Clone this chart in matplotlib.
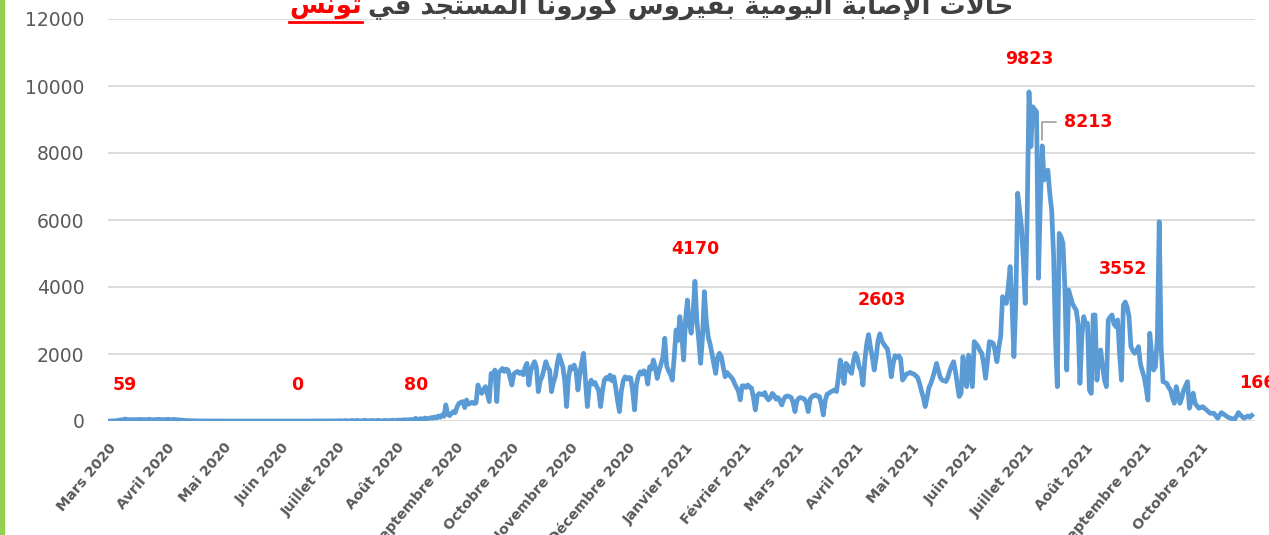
import matplotlib
matplotlib.use('Agg')
import matplotlib.pyplot as plt
from matplotlib.lines import Line2D
from matplotlib.patches import Rectangle
import pandas as pd

# daily new cases, one list per month (from 1 March 2020)
mars_2020 = [0, 2, 1, 3, 5, 18, 25, 30, 40, 59, 45, 38, 40, 42, 35, 44, 40, 50, 38, 41, 36,
             45, 52, 40, 38, 44, 47, 50, 41, 39, 43]
avril_2020 = [45, 50, 38, 42, 48, 40, 35, 30, 25, 20, 15, 12, 10, 8, 6, 5, 4, 3, 2, 2, 1, 1, 0,
              0, 1, 0, 0, 1, 0, 0]
mai_2020 = [0, 0, 1, 0, 0, 0, 2, 0, 0, 0, 1, 0, 0, 0, 0, 3, 0, 0, 0, 0, 1, 0, 0, 0, 0, 0, 2, 0,
            0, 0, 0]
juin_2020 = [0, 1, 0, 0, 0, 2, 0, 0, 0, 0, 1, 0, 3, 0, 0, 0, 1, 0, 0, 4, 0, 2, 0, 0, 1, 0, 0, 3,
             0, 2]
juillet_2020 = [5, 10, 3, 8, 12, 6, 2, 15, 9, 4, 20, 7, 3, 10, 25, 8, 5, 12, 18, 6, 10, 22, 9, 5,
                14, 20, 8, 12, 16, 25, 10]
aout_2020 = [20, 30, 15, 35, 25, 40, 20, 45, 30, 50, 80, 40, 60, 70, 45, 90, 60, 75, 100, 80, 120,
             90, 150, 110, 180, 140, 480, 200, 160, 230, 280]
sept_2020 = [250, 430, 530, 560, 580, 400, 630, 500, 530, 560, 520, 540, 1075, 900, 825, 950, 1025,
             800, 580, 1420, 1350, 1520, 580, 1450, 1500, 1570, 1480, 1550, 1520, 1300]
oct_2020 = [1075, 1400, 1450, 1480, 1420, 1460, 1380, 1600, 1720, 1075, 1500, 1650, 1770, 1600, 875,
            1200, 1320, 1550, 1770, 1600, 1520, 875, 1150, 1320, 1700, 1970, 1800, 1620, 1200, 430,
            1300]
nov_2020 = [1620, 1550, 1670, 1500, 925, 1400, 1750, 2020, 1200, 430, 1050, 1220, 1100, 1150, 1025,
            900, 430, 900, 1220, 1300, 1250, 1370, 1200, 1320, 1000, 600, 280, 900, 1200, 1320]
dec_2020 = [1250, 1300, 1280, 900, 330, 1100, 1350, 1470, 1400, 1500, 1450, 1100, 1620, 1550, 1820,
            1600, 1270, 1500, 1700, 1900, 2470, 1650, 1500, 1400, 1220, 1900, 2715, 2400, 3115,
            2600, 1820]
jan_2021 = [3015, 3610, 2900, 2620, 3200, 4170, 3000, 2420, 1720, 2500, 3860, 3000, 2520, 2300,
            2020, 1700, 1420, 1900, 2020, 1920, 1600, 1320, 1450, 1380, 1320, 1250, 1120, 1000,
            900, 630, 1050]
fev_2021 = [1050, 1000, 1075, 1020, 980, 700, 330, 750, 820, 800, 780, 850, 700, 630, 700, 825, 760,
            650, 700, 600, 480, 650, 730, 750, 730, 700, 550, 280]
mars_2021 = [600, 680, 700, 680, 650, 550, 280, 650, 730, 760, 780, 740, 730, 500, 180, 600, 800,
             830, 870, 900, 930, 880, 1300, 1820, 1500, 1120, 1720, 1650, 1500, 1420, 1800]
avril_2021 = [2020, 1900, 1620, 1500, 1075, 1800, 2300, 2580, 2200, 1900, 1520, 1900, 2400, 2603,
              2400, 2300, 2220, 2150, 1800, 1320, 1700, 1950, 1900, 1950, 1850, 1220, 1300, 1400,
              1420, 1450]
mai_2021 = [1420, 1400, 1350, 1300, 1120, 900, 700, 430, 700, 1000, 1120, 1300, 1500, 1720, 1500,
            1300, 1220, 1200, 1180, 1300, 1500, 1650, 1770, 1500, 1100, 730, 825, 1920, 1500, 1025,
            1970]
juin_2021 = [1500, 1025, 2370, 2300, 2220, 2100, 2020, 1700, 1275, 1800, 2370, 2350, 2320, 2100,
             1770, 2200, 2520, 3710, 3600, 3510, 4000, 4610, 3500, 1920, 3510, 6800, 6300, 5800,
             4800, 3510]
juillet_2021 = [6000, 9823, 8190, 9380, 9300, 9230, 4260, 6500, 8213, 7195, 7300, 7490, 6800, 6300,
                5000, 2520, 1025, 5600, 5500, 5300, 4000, 1520, 3910, 3700, 3510, 3400, 3310, 2920,
                1125, 2500, 3115]
aout_2021 = [2900, 2920, 925, 825, 3165, 3165, 1220, 1920, 2120, 1620, 1225, 1025, 3015, 3100, 3165,
             2900, 2815, 3015, 2000, 1220, 3460, 3552, 3400, 3115, 2220, 2100, 2020, 2100, 2220,
             1720, 1500]
sept_2021 = [1320, 1000, 625, 2620, 2000, 1520, 1620, 2500, 5950, 2220, 1175, 1150, 1125, 1000, 925,
             700, 530, 1025, 800, 530, 700, 925, 1050, 1175, 380, 600, 830, 530, 450, 380]
oct_2021 = [400, 430, 380, 330, 280, 230, 230, 230, 150, 80, 180, 250, 210, 170, 130, 100, 80, 60,
            50, 150, 250, 180, 130, 80, 120, 150, 110, 166]

cases = (mars_2020 + avril_2020 + mai_2020 + juin_2020 + juillet_2020 + aout_2020 + sept_2020
         + oct_2020 + nov_2020 + dec_2020 + jan_2021 + fev_2021 + mars_2021 + avril_2021
         + mai_2021 + juin_2021 + juillet_2021 + aout_2021 + sept_2021 + oct_2021)
dates = pd.date_range('2020-03-01', periods=len(cases), freq='D')

month_labels = ['Mars 2020', 'Avril 2020', 'Mai 2020', 'Juin 2020', 'Juillet 2020', 'Août 2020',
                'Septembre 2020', 'Octobre 2020', 'Novembre 2020', 'Décembre 2020',
                'Janvier 2021', 'Février 2021', 'Mars 2021', 'Avril 2021', 'Mai 2021',
                'Juin 2021', 'Juillet 2021', 'Août 2021', 'Septembre 2021', 'Octobre 2021']
y_ticks = [0, 2000, 4000, 6000, 8000, 10000, 12000]

# red value labels (text position on the chart)
label_texts = ['59', '0', '80', '4170', '2603', '9823', '3552', '166']
label_dates = ['2020-03-10', '2020-06-09', '2020-08-11', '2021-01-06', '2021-04-15',
               '2021-07-02', '2021-08-21', '2021-10-31']
label_y = [1075, 1075, 1075, 5130, 3610, 10800, 4540, 1130]

title_gray = 'حالات الإصابة اليومية بفيروس كورونا المستجد في'
title_red = 'تونس'

# matplotlib has no arabic shaping, so pick the presentation forms by hand
AR_FORMS = {  # isolated, final, initial, medial
    'ا': ('\uFE8D', '\uFE8E', None, None),
    'إ': ('\uFE87', '\uFE88', None, None),
    'ب': ('\uFE8F', '\uFE90', '\uFE91', '\uFE92'),
    'ة': ('\uFE93', '\uFE94', None, None),
    'ت': ('\uFE95', '\uFE96', '\uFE97', '\uFE98'),
    'ج': ('\uFE9D', '\uFE9E', '\uFE9F', '\uFEA0'),
    'ح': ('\uFEA1', '\uFEA2', '\uFEA3', '\uFEA4'),
    'د': ('\uFEA9', '\uFEAA', None, None),
    'ر': ('\uFEAD', '\uFEAE', None, None),
    'س': ('\uFEB1', '\uFEB2', '\uFEB3', '\uFEB4'),
    'ص': ('\uFEB9', '\uFEBA', '\uFEBB', '\uFEBC'),
    'ف': ('\uFED1', '\uFED2', '\uFED3', '\uFED4'),
    'ك': ('\uFED9', '\uFEDA', '\uFEDB', '\uFEDC'),
    'ل': ('\uFEDD', '\uFEDE', '\uFEDF', '\uFEE0'),
    'م': ('\uFEE1', '\uFEE2', '\uFEE3', '\uFEE4'),
    'ن': ('\uFEE5', '\uFEE6', '\uFEE7', '\uFEE8'),
    'و': ('\uFEED', '\uFEEE', None, None),
    'ي': ('\uFEF1', '\uFEF2', '\uFEF3', '\uFEF4'),
}
LAM_ALEF = {'ا': ('\uFEFB', '\uFEFC'), 'إ': ('\uFEF9', '\uFEFA')}


def shape_arabic(text):
    words = []
    for word in text.split(' '):
        letters = []
        i = 0
        while i < len(word):
            if word[i] == 'ل' and i + 1 < len(word) and word[i + 1] in LAM_ALEF:
                letters.append(('la', word[i + 1]))
                i += 2
            else:
                letters.append(word[i])
                i += 1
        dual = [not isinstance(c, tuple) and AR_FORMS[c][2] is not None for c in letters]
        glyphs = []
        for k, c in enumerate(letters):
            a = k > 0 and dual[k - 1]
            b = k + 1 < len(letters) and dual[k]
            if isinstance(c, tuple):
                glyphs.append(LAM_ALEF[c[1]][1 if a else 0])
                continue
            iso, fin, ini, med = AR_FORMS[c]
            if a and b:
                glyphs.append(med)
            elif a:
                glyphs.append(fin)
            elif b:
                glyphs.append(ini)
            else:
                glyphs.append(iso)
        words.append(''.join(glyphs)[::-1])
    return ' '.join(words[::-1])


W, H = 1269, 535
fig = plt.figure(figsize=(W / 100, H / 100), dpi=100)
ax = fig.add_axes([108 / W, 1 - 421 / H, (1255 - 108) / W, (421 - 19) / H])

ax.plot(dates, cases, color='#5B9BD5', lw=3.4, solid_joinstyle='round', zorder=3)

ax.set_ylim(0, 12000)
ax.set_yticks(y_ticks)
ax.set_xlim(dates[0], pd.Timestamp('2021-10-29 18:00'))
ax.set_xticks(pd.date_range('2020-03-01', periods=len(month_labels), freq='MS'))
ax.set_xticklabels(month_labels, rotation=50, ha='right', rotation_mode='anchor',
                   fontsize=10.3, fontweight='bold', color='#595959')
ax.tick_params(axis='x', length=0, pad=14)
ax.tick_params(axis='y', length=0, pad=17, labelsize=13.5, labelcolor='#595959')
ax.grid(axis='y', color='#D9D9D9', lw=1.3)
ax.set_axisbelow(True)
for s in ax.spines.values():
    s.set_visible(False)

for t, d, y in zip(label_texts, label_dates, label_y):
    ax.text(pd.Timestamp(d), y, t, color='#FF0000', fontsize=12.5, fontweight='bold',
            ha='center', va='center')

# 8213 has a leader line down to its point
ax.annotate('8213', xy=(pd.Timestamp('2021-07-09'), 8213),
            xytext=(pd.Timestamp('2021-07-20 14:00'), 8925),
            color='#FF0000', fontsize=12.5, fontweight='bold', ha='left', va='center',
            arrowprops=dict(arrowstyle='-', color='#A6A6A6', lw=1.3, relpos=(0, 0.5),
                            connectionstyle='angle,angleA=180,angleB=90,rad=0',
                            shrinkA=4, shrinkB=4))

# title, cut off by the top edge like in the screenshot
ty = 1 - 14 / H
t_gray = fig.text(368 / W, ty, shape_arabic(title_gray), fontsize=18.7, fontweight='bold',
                  color='#404040', ha='left', va='baseline', family=['DejaVu Sans'])
t_red = fig.text(362 / W, ty, shape_arabic(title_red), fontsize=18.7, fontweight='bold',
                 color='#FF0000', ha='right', va='baseline', family=['DejaVu Sans'])
fig.canvas.draw()
bb = t_red.get_window_extent()
fig.add_artist(Line2D([bb.x0 / W, bb.x1 / W], [1 - 22 / H, 1 - 22 / H], color='#FF0000',
                      lw=2, transform=fig.transFigure))

# green frame edge on the left
fig.add_artist(Rectangle((0, 0), 4 / W, 1, transform=fig.transFigure, color='#92D050'))

fig.savefig('out.png', dpi=100)
